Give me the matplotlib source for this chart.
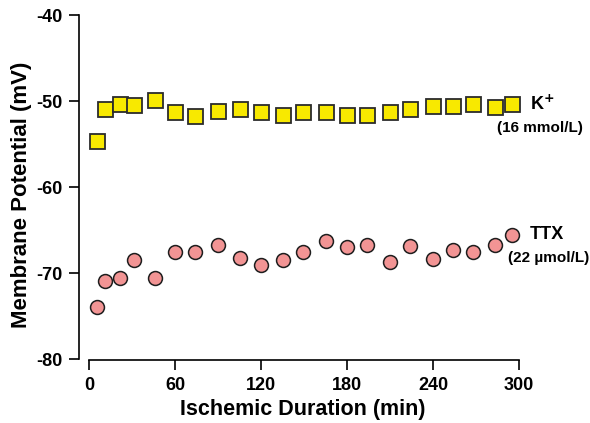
import matplotlib
matplotlib.use("Agg")
import matplotlib.pyplot as plt

plt.rcParams["font.family"] = ["Liberation Sans", "DejaVu Sans"]
plt.rcParams["font.weight"] = "bold"
plt.rcParams["axes.unicode_minus"] = False

# sampling times (min) shared by both groups
minutes = [5, 11, 21, 31, 46, 60, 74, 90, 105, 120, 135, 149, 165, 180, 194, 210, 224, 240, 254, 268, 283, 295]

# membrane potential (mV)
k_high = [-54.6, -50.9, -50.4, -50.5, -49.9, -51.3, -51.7, -51.2, -50.9, -51.3, -51.6,
          -51.3, -51.3, -51.6, -51.6, -51.3, -50.9, -50.6, -50.6, -50.3, -50.7, -50.4]
ttx = [-74.0, -70.9, -70.6, -68.5, -70.6, -67.5, -67.5, -66.7, -68.2, -69.1, -68.5,
       -67.6, -66.3, -67.0, -66.8, -68.7, -66.9, -68.4, -67.3, -67.5, -66.8, -65.6]

x_ticks = [0, 60, 120, 180, 240, 300]
y_ticks = [-80, -70, -60, -50, -40]

fig = plt.figure(figsize=(5.9, 4.23), dpi=100)
ax = fig.add_axes([0.1339, 0.1513, 0.7458, 0.8132])

ax.plot(minutes, k_high, "s", ms=10.8, mfc="#f8e900", mec="#2b2b2b", mew=1.3, clip_on=False)
ax.plot(minutes, ttx, "o", ms=10, mfc="#f29494", mec="#1e1e1e", mew=1.1, clip_on=False)

ax.set_xlim(-7.3, 300)
ax.set_ylim(-80, -40)
ax.set_xticks(x_ticks)
ax.set_yticks(y_ticks)

# detached axes: x axis starts at 0, y axis sits left of it
for side in ["top", "right"]:
    ax.spines[side].set_visible(False)
ax.spines["bottom"].set_bounds(0, 300)
ax.spines["bottom"].set_position(("outward", 1))
ax.spines["bottom"].set_linewidth(1.2)
ax.spines["left"].set_linewidth(1.2)
ax.tick_params(axis="both", direction="out", length=7, width=1.2, labelsize=13, pad=5)

ax.set_xlabel("Ischemic Duration (min)", fontsize=15.5, fontweight="bold", va="center")
ax.xaxis.set_label_coords(0.508, -0.148)
ax.set_ylabel("Membrane Potential (mV)", fontsize=16, fontweight="bold", va="center")
ax.yaxis.set_label_coords(-0.13, 0.477)

# group labels at the right end of each series
ax.text(308, -50.35, "K$^{\\mathbf{+}}$", fontsize=13, fontweight="bold", va="center", ha="left", clip_on=False)
ax.text(284.4, -53.1, "(16 mmol/L)", fontsize=11, fontweight="bold", va="center", ha="left", clip_on=False)
ax.text(307.4, -65.5, "TTX", fontsize=13, fontweight="bold", va="center", ha="left", clip_on=False)
ax.text(292, -68.2, "(22 \u00b5mol/L)", fontsize=11, fontweight="bold", va="center", ha="left", clip_on=False)

fig.savefig("out.png", dpi=100)
